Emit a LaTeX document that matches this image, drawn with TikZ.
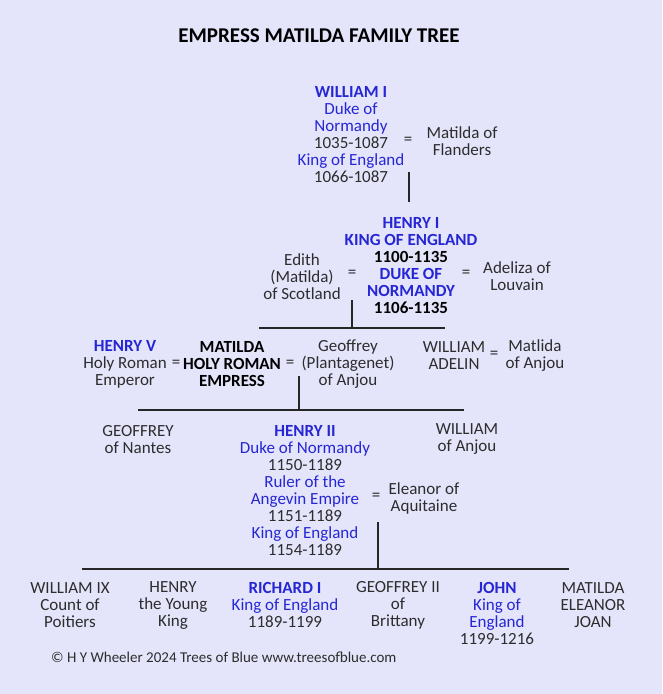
\documentclass[tikz,border=0pt]{standalone}
\usepackage{fontspec}
\setmainfont{Carlito}
\definecolor{bg}{RGB}{228,229,251}
\definecolor{royal}{RGB}{38,38,212}
\definecolor{txt}{RGB}{45,45,45}
\newcommand\blu[1]{\textcolor{royal}{#1}}
\newcommand\blb[1]{\textcolor{royal}{\bfseries #1}}
\begin{document}
\begin{tikzpicture}[x=1pt,y=-1pt,
  person/.style={align=center,font=\fontsize{17}{17}\selectfont,text=txt,inner sep=0pt},
  eqs/.style={font=\fontsize{17}{17}\selectfont,text=txt,inner sep=0pt},
  tline/.style={draw=black!85,line width=1.3pt}]
\fill[bg] (0,0) rectangle (662,694);
\useasboundingbox (0,0) rectangle (662,694);
\node[font=\fontsize{21}{24}\selectfont\bfseries,text=black,inner sep=0pt] (title) at (319,36) {EMPRESS MATILDA FAMILY TREE};
% generation 1
\node[person] (w1) at (351,134.5) {\blb{WILLIAM I}\\\blu{Duke of}\\\blu{Normandy}\\1035-1087\\\blu{King of England}\\1066-1087};
\node[eqs] (eq1) at (408,141) {=};
\node[person] (mflan) at (462,141.5) {Matilda of\\Flanders};
\coordinate (d1a) at (409,172);
\coordinate (d1b) at (409,202);
\draw[tline] (d1a) -- (d1b);
% generation 2
\node[person,font=\fontsize{17}{17}\selectfont\bfseries,text=black] (h1) at (411,265.5) {\blu{HENRY I}\\\blu{KING OF ENGLAND}\\1100-1135\\\blu{DUKE OF}\\\blu{NORMANDY}\\1106-1135};
\node[person] (edith) at (302,277) {Edith\\(Matilda)\\of Scotland};
\node[eqs] (eq2) at (352,274) {=};
\node[eqs] (eq3) at (466,274) {=};
\node[person] (adeliza) at (517,276.5) {Adeliza of\\Louvain};
\coordinate (d2a) at (352,300);
\coordinate (d2b) at (352,328);
\coordinate (h2l) at (259,328);
\coordinate (h2r) at (445,328);
\draw[tline] (d2a) -- (d2b);
\draw[tline] (h2l) -- (h2r);
% generation 3
\node[person] (h5) at (125,364) {\blb{HENRY V}\\Holy Roman\\Emperor};
\node[eqs] (eq4) at (176,364) {=};
\node[person,font=\fontsize{17}{17}\selectfont\bfseries,text=black] (mat) at (232,364) {MATILDA\\HOLY ROMAN\\EMPRESS};
\node[eqs] (eq5) at (290,364) {=};
\node[person] (geof) at (348,364) {Geoffrey\\(Plantagenet)\\of Anjou};
\node[person] (wadelin) at (454,355.5) {WILLIAM\\ADELIN};
\node[eqs] (eq6) at (494,355) {=};
\node[person] (manjou) at (535,355.5) {Matlida\\of Anjou};
\coordinate (d3a) at (299,376);
\coordinate (d3b) at (299,410);
\coordinate (h3l) at (138,410);
\coordinate (h3r) at (464,410);
\draw[tline] (d3a) -- (d3b);
\draw[tline] (h3l) -- (h3r);
% generation 4
\node[person] (gnantes) at (138,439.5) {GEOFFREY\\of Nantes};
\node[person] (wanjou) at (467,438.5) {WILLIAM\\of Anjou};
\node[person] (h2) at (305,490.5) {\blb{HENRY II}\\\blu{Duke of Normandy}\\1150-1189\\\blu{Ruler of the}\\\blu{Angevin Empire}\\1151-1189\\\blu{King of England}\\1154-1189};
\node[eqs] (eq7) at (376,497) {=};
\node[person] (eleanor) at (424,498.5) {Eleanor of\\Aquitaine};
\coordinate (d4a) at (378,522);
\coordinate (d4b) at (378,569);
\coordinate (h4l) at (82,569);
\coordinate (h4r) at (569,569);
\draw[tline] (d4a) -- (d4b);
\draw[tline] (h4l) -- (h4r);
% generation 5
\node[person] (w9) at (70,605) {WILLIAM IX\\Count of\\Poitiers};
\node[person] (hyk) at (173,605) {HENRY\\the Young\\King};
\node[person] (r1) at (285,605) {\blb{RICHARD I}\\\blu{King of England}\\1189-1199};
\node[person] (g2) at (398,605) {GEOFFREY II\\of\\Brittany};
\node[person] (john) at (497,613.5) {\blb{JOHN}\\\blu{King of}\\\blu{England}\\1199-1216};
\node[person] (mej) at (593,605) {MATILDA\\ELEANOR\\JOAN};
\node[font=\fontsize{15}{18}\selectfont,text=txt,inner sep=0pt,anchor=west] (copy) at (51,657) {© H Y Wheeler 2024 Trees of Blue www.treesofblue.com};
\end{tikzpicture}
\end{document}
